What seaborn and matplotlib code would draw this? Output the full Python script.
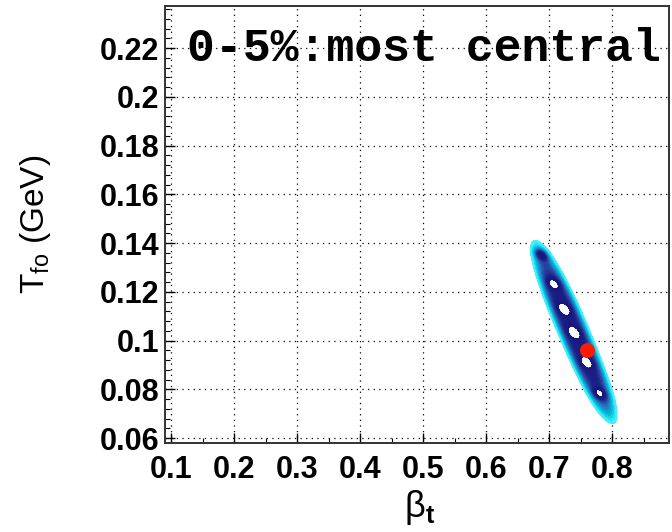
import numpy as np
import matplotlib
matplotlib.use("Agg")
import matplotlib.pyplot as plt
import seaborn as sns
from matplotlib.colors import LinearSegmentedColormap
from matplotlib.ticker import MultipleLocator

# ---------------- data ----------------
best_fit_beta = [0.760]
best_fit_T = [0.096]

# confidence-region band: tips of the long axis and horizontal half-width
contour_tip_top = (0.675, 0.1429)
contour_tip_bottom = (0.800, 0.066)
contour_half_width_beta = 0.026
# positions (along the band, -1 = upper tip, +1 = lower tip) of white islands
valley_islands = [-0.80, -0.49, -0.22, 0.03, 0.35, 0.68]

x_ticks = [0.1, 0.2, 0.3, 0.4, 0.5, 0.6, 0.7, 0.8]
x_tick_labels = ["0.1", "0.2", "0.3", "0.4", "0.5", "0.6", "0.7", "0.8"]
y_ticks = [0.06, 0.08, 0.10, 0.12, 0.14, 0.16, 0.18, 0.20, 0.22]
y_tick_labels = ["0.06", "0.08", "0.1", "0.12", "0.14", "0.16", "0.18", "0.2", "0.22"]

title_text = "0-5%:most central"

# ---------------- style ----------------
sns.set_theme(style="white")
plt.rcParams["font.family"] = ["Liberation Sans", "DejaVu Sans"]
plt.rcParams["mathtext.fontset"] = "custom"
plt.rcParams["mathtext.rm"] = "Liberation Sans"
plt.rcParams["mathtext.it"] = "Liberation Sans:italic"
plt.rcParams["mathtext.bf"] = "Liberation Sans:bold"

fig = plt.figure(figsize=(6.72, 5.32), dpi=100)
fig.patch.set_facecolor("white")
ax = fig.add_axes([165 / 672, 1 - 443 / 532, 504 / 672, 437 / 532])
ax.set_facecolor("white")

# ---------------- contour surface ----------------
bb = np.linspace(0.60, 0.86, 700)
TT = np.linspace(0.05, 0.16, 700)
B, T = np.meshgrid(bb, TT)
(b1, t1), (b2, t2) = contour_tip_top, contour_tip_bottom
Tc = 0.5 * (t1 + t2)
Th = 0.5 * (t1 - t2)
tpar = (Tc - T) / Th                       # -1 at upper tip, +1 at lower tip
bcenter = 0.5 * (b1 + b2) + tpar * 0.5 * (b2 - b1)
vpar = (B - bcenter) / contour_half_width_beta
f = 0.45 * tpar ** 2 + 0.55 * tpar ** 4 + vpar ** 2
chi = 0.30 + 0.70 * f + 0.15 * np.clip(-tpar - 0.3, 0, None)
for ui in valley_islands:
    chi = chi - 0.55 * np.exp(-((tpar - ui) / 0.06) ** 2) * np.exp(-(vpar / 0.35) ** 2)

levels = np.linspace(0.15, 1.0, 18)
cmap = LinearSegmentedColormap.from_list(
    "rootcont",
    [(0.0, "#16167a"), (0.35, "#1c1f84"), (0.55, "#2a4aa8"),
     (0.7, "#1a8cc8"), (0.82, "#00bcd8"), (1.0, "#40f0ff")])
cols = [cmap(i / (len(levels) - 2)) for i in range(len(levels) - 1)]
ax.contourf(B, T, chi, levels=levels, colors=cols, zorder=2)
ax.contour(B, T, chi, levels=levels[:-1], colors=cols, linewidths=0.6, zorder=2)
ax.contour(B, T, chi, levels=[levels[-1]], colors=["#40f0ff"], linewidths=0.9, zorder=2)

# best fit point
sns.scatterplot(x=best_fit_beta, y=best_fit_T, color="#ff1a00", s=115,
                edgecolor="#ff1a00", linewidth=0, ax=ax, zorder=5, legend=False)

# ---------------- axes ----------------
ax.set_xlim(0.0905, 0.890)
ax.set_ylim(0.058, 0.2373)
ax.set_xticks(x_ticks)
ax.set_xticklabels(x_tick_labels)
ax.set_yticks(y_ticks)
ax.set_yticklabels(y_tick_labels)
ax.xaxis.set_minor_locator(MultipleLocator(0.05))
ax.yaxis.set_minor_locator(MultipleLocator(0.004))
ax.tick_params(which="both", direction="in", top=False, right=False,
               bottom=True, left=True, color="black")
ax.tick_params(which="major", length=7, width=1.0)
ax.tick_params(which="minor", length=3.5, width=0.8)
ax.tick_params(axis="x", which="major", pad=9)
ax.tick_params(axis="y", which="major", pad=4)
for lab in ax.get_xticklabels() + ax.get_yticklabels():
    lab.set_fontweight("bold")
    lab.set_fontsize(22)
    lab.set_color("black")

ax.grid(True, which="major", color="black", linestyle=(0, (1, 3.5)), linewidth=0.9)
ax.set_axisbelow(True)
for sp in ax.spines.values():
    sp.set_color("#333333")
    sp.set_linewidth(1.4)
    sp.set_visible(True)

ax.set_xlabel(r"$\mathrm{\beta}_{\mathbf{t}}$", fontsize=26, color="black")
ax.xaxis.set_label_coords(0.505, -0.102)
ax.set_ylabel(r"T$_{\mathregular{fo}}$ (GeV)", fontsize=24, color="black")
ax.yaxis.set_label_coords(-0.222, 0.5)

ax.text(0.044, 0.902, title_text, transform=ax.transAxes,
        family=["Liberation Mono", "DejaVu Sans Mono"], fontweight="bold",
        fontsize=33.5, va="center", ha="left", color="black", zorder=6)

fig.savefig("out.png", dpi=100)
